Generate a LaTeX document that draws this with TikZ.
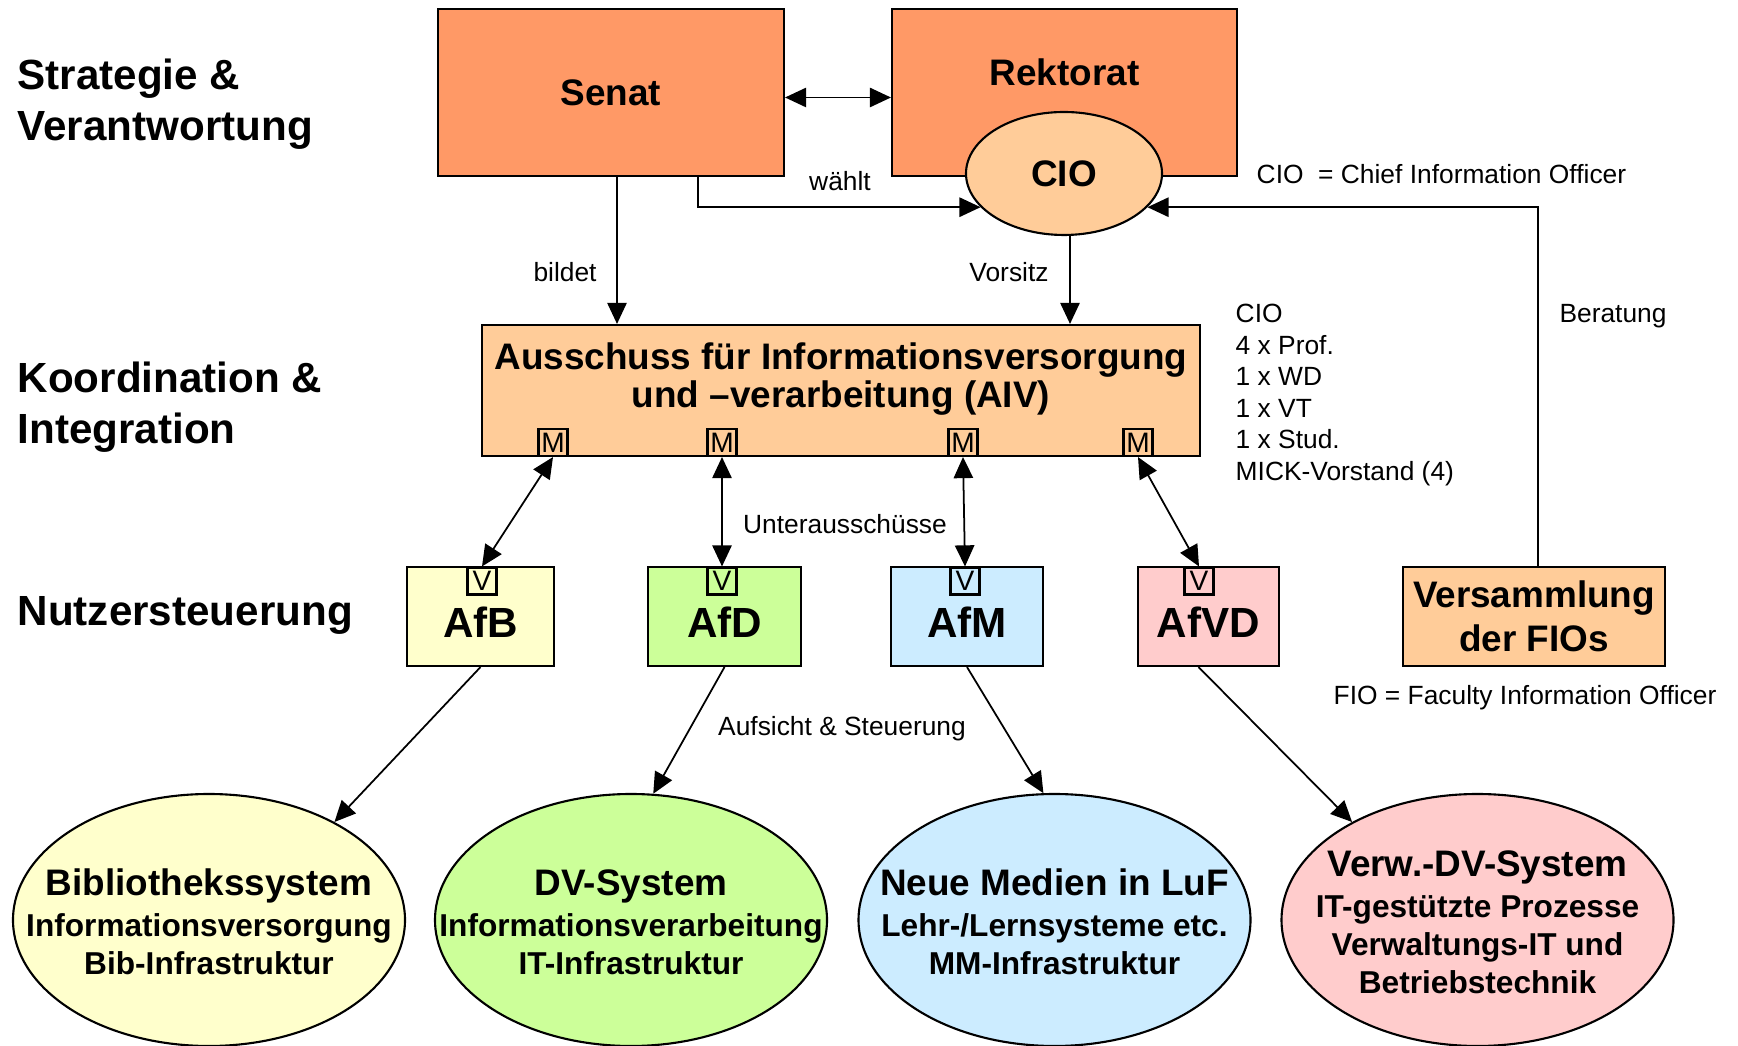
\documentclass[tikz,border=0pt]{standalone}
\usepackage{fontspec}
\setmainfont{Liberation Sans}
\usetikzlibrary{arrows.meta,shapes.geometric}

\definecolor{senatorange}{HTML}{FF9966}
\definecolor{lightorange}{HTML}{FFCC99}
\definecolor{bibyellow}{HTML}{FFFFCC}
\definecolor{dvgreen}{HTML}{CCFF99}
\definecolor{mmblue}{HTML}{CCECFF}
\definecolor{verwpink}{HTML}{FFCCCC}

\newcommand{\sysname}[1]{{\fontsize{10.5}{12.6}\selectfont #1}}

\tikzset{
	unittext/.style={font=\bfseries\fontsize{10.5}{12.6}\selectfont},
	unit/.style={draw, line width=0.6pt, rectangle, inner sep=1mm, align=center, unittext},
	afbox/.style={draw, line width=0.6pt, rectangle, minimum height=0.99cm, text height=0.42cm, font=\bfseries\fontsize{12}{14.4}\selectfont},
	tag/.style={draw, line width=0.6pt, rectangle, inner sep=0pt, minimum width=0.29cm, minimum height=0.27cm, font=\fontsize{8}{9}\selectfont},
	systext/.style={align=center, yshift=-0.02cm, font=\bfseries\fontsize{9}{10.8}\selectfont},
	system/.style={draw, line width=0.6pt, ellipse, minimum width=3.92cm, minimum height=2.52cm, inner sep=0pt},
	level/.style={anchor=west, align=left, inner sep=0pt, font=\bfseries\fontsize{12}{14.4}\selectfont},
	note/.style={inner sep=0pt, font=\fontsize{7.5}{9}\selectfont},
	link/.style={line width=0.5pt, -{Triangle[length=6pt,width=5.5pt]}},
	dlink/.style={line width=0.5pt, {Triangle[length=6pt,width=5.5pt]}-{Triangle[length=6pt,width=5.5pt]}},
}

\begin{document}
\begin{tikzpicture}
	\useasboundingbox (0,0) rectangle (17.38,10.45);

	\node[level] (H-00) at (0.17, 9.405) {Strategie \&\\Verantwortung};
	\node[level] (H-01) at (0.17, 6.38) {Koordination \&\\Integration};
	\node[level] (H-02) at (0.17, 4.30) {Nutzersteuerung};

	\node[unit, fill=senatorange, minimum width=3.46cm, minimum height=1.67cm] (L1-00) at ( 6.11 , 9.525) {Senat};
	\node[unit, fill=senatorange, minimum width=3.45cm, minimum height=1.67cm, label={[unittext, anchor=center, yshift=-0.64cm]north:Rektorat}] (L1-01) at (10.645, 9.525) {};
	\node[unit, ellipse, fill=lightorange, minimum width=1.96cm, minimum height=1.23cm] (L1-CIO) at (10.64 , 8.715) {CIO};

	\node[unit, fill=lightorange, minimum width=7.18cm, minimum height=1.31cm, label={[unittext, font=\bfseries\fontsize{10.5}{11}\selectfont, align=center, yshift=0.115cm]center:Ausschuss für Informationsversorgung\\und –verarbeitung (AIV)}] (L2-00) at ( 8.41 , 6.545) {};

	\node[tag] (L2-M00) at ( 5.53 , 6.025) {M};
	\node[tag] (L2-M01) at ( 7.22 , 6.025) {M};
	\node[tag] (L2-M02) at ( 9.63 , 6.025) {M};
	\node[tag] (L2-M03) at (11.38 , 6.025) {M};

	\node[afbox, fill=bibyellow, minimum width=1.47cm] (L3-00) at ( 4.805, 4.285) {AfB};
	\node[afbox, fill=dvgreen,   minimum width=1.53cm] (L3-01) at ( 7.245, 4.285) {AfD};
	\node[afbox, fill=mmblue,    minimum width=1.52cm] (L3-02) at ( 9.67 , 4.285) {AfM};
	\node[afbox, fill=verwpink,  minimum width=1.41cm] (L3-03) at (12.085, 4.285) {AfVD};

	\node[tag] (L3-V00) at ( 4.82 , 4.64) {V};
	\node[tag] (L3-V01) at ( 7.22 , 4.64) {V};
	\node[tag] (L3-V02) at ( 9.65 , 4.64) {V};
	\node[tag] (L3-V03) at (11.99 , 4.64) {V};

	\node[unit, fill=lightorange, minimum width=2.62cm, minimum height=0.99cm] (L3-FIO) at (15.34, 4.285) {Versammlung\\der FIOs};

	\node[system, fill=bibyellow, label={[systext]center:\sysname{Bibliothekssystem}\\[1pt]Informationsversorgung\\Bib-Infrastruktur}] (L4-00) at ( 2.09 , 1.25) {};
	\node[system, fill=dvgreen,   label={[systext]center:\sysname{DV-System}\\[1pt]Informationsverarbeitung\\IT-Infrastruktur}] (L4-01) at ( 6.31 , 1.25) {};
	\node[system, fill=mmblue,    label={[systext]center:\sysname{Neue Medien in LuF}\\[1pt]Lehr-/Lernsysteme etc.\\MM-Infrastruktur}] (L4-02) at (10.545, 1.25) {};
	\node[system, fill=verwpink,  label={[systext]center:\sysname{Verw.-DV-System}\\[1pt]IT-gestützte Prozesse\\Verwaltungs-IT und\\Betriebstechnik}] (L4-03) at (14.775, 1.25) {};

	\node[note] (T-00) at ( 8.40 , 8.64) {wählt};
	\node[note] (T-01) at ( 5.65 , 7.73) {bildet};
	\node[note] (T-02) at (10.09 , 7.73) {Vorsitz};
	\node[note] (T-03) at ( 8.45 , 5.21) {Unterausschüsse};
	\node[note] (T-04) at ( 8.42 , 3.16) {Aufsicht \& Steuerung};
	\node[note] (T-05) at (16.13 , 7.29) {Beratung};
	\node[note, anchor=west] (T-06) at (12.56, 8.71) {CIO\ \ = Chief Information Officer};
	\node[note, anchor=west, align=left] (T-07) at (12.35, 6.50) {CIO\\4 x Prof.\\1 x WD\\1 x VT\\1 x Stud.\\MICK-Vorstand (4)};
	\node[note] (T-08) at (15.25 , 3.47) {FIO = Faculty Information Officer};

	\draw[dlink] ([yshift=-0.05cm]L1-00.east) to ([yshift=-0.05cm]L1-01.west);
	\draw[link] ([xshift=0.06cm]L1-00.south) to ([xshift=0.06cm]L1-00.south |- L2-00.north);
	\draw[link] ([xshift=0.87cm]L1-00.south) |- (L1-CIO.202);
	\draw[link] ([xshift=0.06cm]L1-CIO.south) to ([xshift=0.06cm]L1-CIO.south |- L2-00.north);
	\draw[link] ([xshift=0.04cm]L3-FIO.north) |- (L1-CIO.-22);

	\draw[dlink] (L2-M00.south) to (L3-V00.north);
	\draw[dlink] (L2-M01.south) to (L3-V01.north);
	\draw[dlink] (L2-M02.south) to (L3-V02.north);
	\draw[dlink] (L2-M03.south) to (L3-V03.north);

	\draw[link] (L3-00.south) to (L4-00.38);
	\draw[link] (L3-01.south) to (L4-01.80);
	\draw[link] (L3-02.south) to (L4-02.95);
	\draw[link] ([xshift=-0.1cm]L3-03.south) to (L4-03.142);

\end{tikzpicture}
\end{document}
